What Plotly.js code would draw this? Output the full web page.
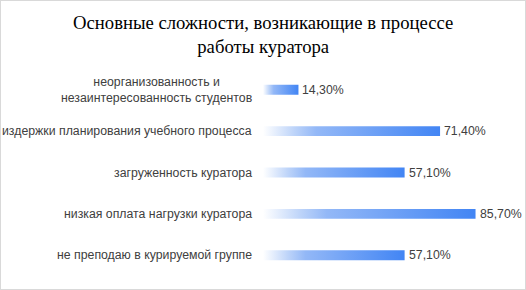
<!DOCTYPE html>
<html>
<head>
<meta charset="utf-8">
<script src="https://cdn.plot.ly/plotly-3.0.1.min.js"></script>
<style>
html,body{margin:0;padding:0;background:#fff;}
#chart{width:524px;height:288px;border:1px solid #d9d9d9;}
</style>
</head>
<body>
<div id="chart"></div>
<script>
const titleText = "Основные сложности, возникающие в процессе<br>работы куратора";
const categories = [
  "неорганизованность и<br>незаинтересованность студентов",
  "издержки планирования учебного процесса",
  "загруженность куратора",
  "низкая оплата нагрузки куратора",
  "не преподаю в курируемой группе"
];
const values = [14.3, 71.4, 57.1, 85.7, 57.1];
const valueLabels = ["14,30%", "71,40%", "57,10%", "85,70%", "57,10%"];

const half = 0.12;
const gradient = [[0,'#ffffff'],[0.18,'#bcd3f9'],[0.3,'#93b8f7'],[1,'#4285f4']];

const traces = values.map((v, i) => ({
  type: 'scatter',
  mode: 'lines',
  x: [0, v, v, 0, 0],
  y: [i - half, i - half, i + half, i + half, i - half],
  fill: 'toself',
  fillgradient: {type: 'horizontal', colorscale: gradient, start: 0, stop: v},
  line: {width: 0, color: 'rgba(0,0,0,0)'},
  hoverinfo: 'skip',
  showlegend: false
}));

const labelFont = {family: 'Liberation Sans, Arial, sans-serif', size: 12.3, color: '#404040'};
const annotations = [{
  xref: 'paper', yref: 'paper', x: 0, y: 1.285,
  xanchor: 'center', yanchor: 'top',
  text: titleText, showarrow: false, align: 'center',
  font: {family: 'Liberation Serif, Times New Roman, serif', size: 18.7, color: '#000'}
}];
categories.forEach((c, i) => {
  annotations.push({
    xref: 'paper', yref: 'y', x: 0, y: i,
    xanchor: 'right', yanchor: 'middle', xshift: -9,
    text: c, showarrow: false, align: 'center',
    font: labelFont
  });
});
values.forEach((v, i) => {
  annotations.push({
    xref: 'x', yref: 'y', x: v, y: i,
    xanchor: 'left', yanchor: 'middle', xshift: 2,
    text: valueLabels[i], showarrow: false,
    font: labelFont
  });
});

const layout = {
  width: 524, height: 288,
  margin: {l: 262, r: 14, t: 68, b: 13},
  paper_bgcolor: '#fff', plot_bgcolor: '#fff',
  xaxis: {range: [0, 100], visible: false, fixedrange: true},
  yaxis: {range: [4.5, -0.5], visible: false, fixedrange: true},
  annotations: annotations,
  showlegend: false
};

Plotly.newPlot('chart', traces, layout, {displayModeBar: false, staticPlot: true});
</script>
</body>
</html>
